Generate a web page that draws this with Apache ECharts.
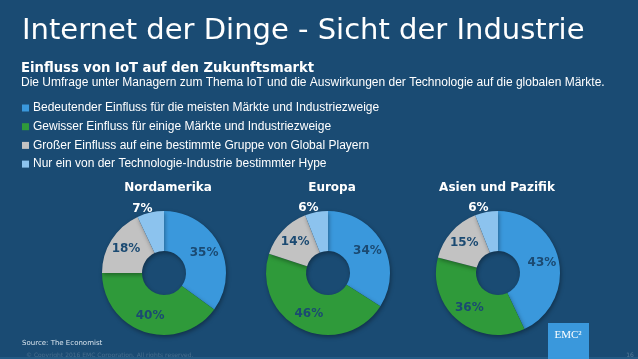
<!DOCTYPE html>
<html>
<head>
<meta charset="utf-8">
<script src="https://cdn.jsdelivr.net/npm/echarts@6/dist/echarts.min.js"></script>
<style>
html,body{margin:0;padding:0;background:#1a4b73;}
#chart{width:638px;height:359px;}
</style>
</head>
<body>
<div id="chart"></div>
<script>
const categories = [
  'Bedeutender Einfluss für die meisten Märkte und Industriezweige',
  'Gewisser Einfluss für einige Märkte und Industriezweige',
  'Großer Einfluss auf eine bestimmte Gruppe von Global Playern',
  'Nur ein von der Technologie-Industrie bestimmter Hype'
];
const regions = ['Nordamerika', 'Europa', 'Asien und Pazifik'];
const nordamerika = [35, 40, 18, 7];
const europa = [34, 46, 14, 6];
const asienPazifik = [43, 36, 15, 6];
const regionValues = [nordamerika, europa, asienPazifik];

const mainTitle = 'Internet der Dinge - Sicht der Industrie';
const subTitle = 'Einfluss von IoT auf den Zukunftsmarkt';
const description = 'Die Umfrage unter Managern zum Thema IoT und die Auswirkungen der Technologie auf die globalen Märkte.';
const sourceText = 'Source: The Economist';
const copyrightText = '© Copyright 2016 EMC Corporation. All rights reserved.';

const BG = '#1a4b73';
const COLORS = ['#3a98dc', '#2f9a3a', '#c2c2c2', '#8cc3ee'];
const CENTERS = [[164, 273], [328, 273], [498, 273]];
const TITLE_X = [168, 332, 497];
const BODY = '"Liberation Sans", Arial, sans-serif';

const chart = echarts.init(document.getElementById('chart'), null, {renderer: 'canvas'});

const series = regionValues.map((vals, ri) => ({
  type: 'pie',
  name: regions[ri],
  center: CENTERS[ri],
  radius: [22, 62],
  startAngle: 90,
  clockwise: true,
  avoidLabelOverlap: false,
  silent: true,
  animation: false,
  itemStyle: {
    shadowBlur: 4,
    shadowColor: 'rgba(0,0,0,0.35)',
    shadowOffsetX: 1,
    shadowOffsetY: 2
  },
  label: {
    show: true,
    position: 'inner',
    formatter: '{c}%',
    color: '#1b4a72',
    fontFamily: 'DejaVu Sans',
    fontWeight: 'bold',
    fontSize: 12
  },
  labelLine: {show: false},
  data: vals.map((v, i) => {
    const d = {name: categories[i], value: v};
    if (i === vals.length - 1) {
      d.label = {
        position: 'outside',
        color: '#ffffff',
        distanceToLabelLine: -3
      };
      d.labelLine = {show: false, length: 4, length2: 0};
    }
    return d;
  })
}));

const graphics = [];
regions.forEach((r, i) => {
  graphics.push({
    type: 'text',
    style: {
      text: r, x: TITLE_X[i], y: 188,
      textAlign: 'center', textVerticalAlign: 'middle',
      font: 'bold 12px "DejaVu Sans"', fill: '#ffffff'
    }
  });
});
graphics.push(
  {type: 'text', style: {text: mainTitle, x: 22, y: 31, textVerticalAlign: 'middle',
    font: '29px "DejaVu Sans"', fill: '#ffffff'}},
  {type: 'text', style: {text: subTitle, x: 21, y: 69, textVerticalAlign: 'middle',
    font: 'bold 13.2px "DejaVu Sans"', fill: '#ffffff'}},
  {type: 'text', style: {text: description, x: 21, y: 82.5, textVerticalAlign: 'middle',
    font: '12px ' + BODY, fill: '#ffffff'}},
  {type: 'text', style: {text: sourceText, x: 22, y: 343, textVerticalAlign: 'middle',
    font: '7px "DejaVu Sans"', fill: '#d8e4ee'}},
  {type: 'text', style: {text: copyrightText, x: 26, y: 355, textVerticalAlign: 'middle',
    font: '6px "DejaVu Sans"', fill: 'rgba(255,255,255,0.18)'}},
  {type: 'text', style: {text: '16', x: 630, y: 355, textAlign: 'center', textVerticalAlign: 'middle',
    font: '6px "DejaVu Sans"', fill: 'rgba(255,255,255,0.25)'}},
  {type: 'rect', shape: {x: 0, y: 357, width: 638, height: 2}, style: {fill: '#245a85'}},
  {type: 'rect', shape: {x: 548, y: 323, width: 41, height: 36}, style: {fill: '#3a98dc'}},
  {type: 'text', style: {text: 'EMC²', x: 568, y: 335, textAlign: 'center', textVerticalAlign: 'middle',
    font: '11px "Liberation Serif"', fill: '#ffffff'}}
);

chart.setOption({
  backgroundColor: BG,
  animation: false,
  color: COLORS,
  legend: {
    orient: 'vertical',
    left: 22,
    top: 102,
    padding: 0,
    itemWidth: 7,
    itemHeight: 7,
    itemGap: 6.7,
    icon: 'rect',
    selectedMode: false,
    data: categories,
    textStyle: {
      color: '#ffffff',
      fontSize: 12,
      fontFamily: BODY,
      lineHeight: 12,
      padding: [0, 0, 0, -1]
    }
  },
  series: series,
  graphic: graphics
});
</script>
</body>
</html>
